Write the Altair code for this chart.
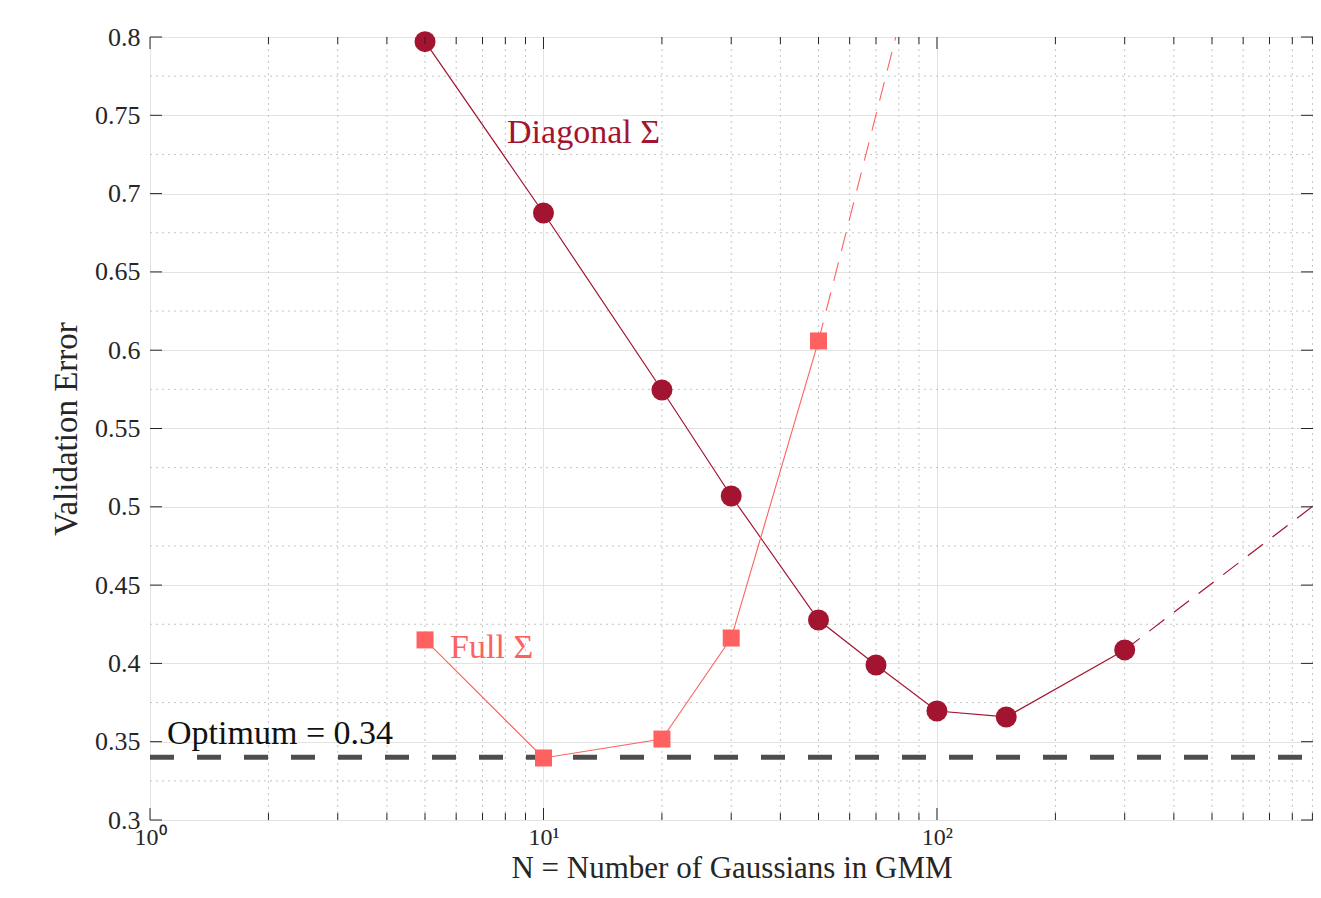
import altair as alt
import pandas as pd

# ---- data ----
diag_n = [5, 10, 20, 30, 50, 70, 100, 150, 300]
diag_err = [0.797, 0.6876, 0.5746, 0.5069, 0.4277, 0.399, 0.3696, 0.3658, 0.4086]
diag_ext_n = [300, 1000]
diag_ext_err = [0.4086, 0.509]

full_n = [5, 10, 20, 30, 50]
full_err = [0.415, 0.3396, 0.3517, 0.4162, 0.6059]
full_ext_n = [50, 100]
full_ext_err = [0.6059, 0.9035]

optimum = [0.34]

y_major = [0.3, 0.35, 0.4, 0.45, 0.5, 0.55, 0.6, 0.65, 0.7, 0.75, 0.8]
y_minor = [0.325, 0.375, 0.425, 0.475, 0.525, 0.575, 0.625, 0.675, 0.725, 0.775]
x_major = [1, 10, 100]
x_minor = [2, 3, 4, 5, 6, 7, 8, 9, 20, 30, 40, 50, 60, 70, 80, 90,
           200, 300, 400, 500, 600, 700, 800, 900]

label_text = ["Diagonal Σ", "Full Σ", "Optimum = 0.34"]
label_n = [8.08, 5.79, 1.105]
label_err = [0.732, 0.4034, 0.3485]

DIAG = "#A2142F"
FULL = "#FF6161"
INK = "#262626"
FONT = "Liberation Serif"

W, H = 1163, 783
XMAX = 903

xscale = alt.Scale(type="log", domain=[1, XMAX], nice=False)
yscale = alt.Scale(domain=[0.3, 0.8], nice=False, zero=False)

xaxis = alt.Axis(
    values=x_major,
    labelExpr="datum.value == 1 ? '10⁰' : datum.value == 10 ? '10¹' : '10²'",
    ticks=False, domain=False, grid=True, gridColor="#e3e3e3", gridWidth=1,
    labelFont=FONT, labelFontSize=24, labelColor=INK, labelPadding=5,
    labelFlush=False, labelOverlap=False,
    title="N = Number of Gaussians in GMM", titleFont=FONT, titleFontSize=31,
    titleFontWeight="normal", titleColor=INK, titleBaseline="alphabetic", titleY=57,
)
yaxis = alt.Axis(
    values=y_major, format="~g",
    ticks=False, domain=False, grid=True, gridColor="#e3e3e3", gridWidth=1,
    labelFont=FONT, labelFontSize=26, labelColor=INK, labelPadding=10,
    title="Validation Error", titleFont=FONT, titleFontSize=33,
    titleFontWeight="normal", titleColor=INK, titleBaseline="alphabetic", titleX=-74,
)


def X():
    return alt.X("n:Q", scale=xscale, axis=xaxis, title="N = Number of Gaussians in GMM")


def Y():
    return alt.Y("err:Q", scale=yscale, axis=yaxis, title="Validation Error")


diag = pd.DataFrame({"n": diag_n, "err": diag_err})
diag_ext = pd.DataFrame({"n": diag_ext_n, "err": diag_ext_err})
full = pd.DataFrame({"n": full_n, "err": full_err})
full_ext = pd.DataFrame({"n": full_ext_n, "err": full_ext_err})
opt = pd.DataFrame({"err": optimum})
ymaj = pd.DataFrame({"err": y_major})
ymin = pd.DataFrame({"err": y_minor})
xmaj = pd.DataFrame({"n": x_major})
xmin = pd.DataFrame({"n": x_minor})
labels = pd.DataFrame({"n": label_n, "err": label_err, "label": label_text})

# minor grids (dotted)
grid_x_minor = alt.Chart(xmin).mark_rule(color="#c4c4c4", strokeWidth=1, strokeDash=[2, 4]).encode(
    x=X(), y=alt.value(0), y2=alt.value(H))
grid_y_minor = alt.Chart(ymin).mark_rule(color="#c4c4c4", strokeWidth=1, strokeDash=[2, 4]).encode(
    y=Y(), x=alt.value(0), x2=alt.value(W))

# inward ticks
tick_left = alt.Chart(ymaj).mark_rule(color=INK, strokeWidth=1).encode(
    y=Y(), x=alt.value(0), x2=alt.value(12))
tick_right = alt.Chart(ymaj).mark_rule(color=INK, strokeWidth=1).encode(
    y=Y(), x=alt.value(W), x2=alt.value(W - 12))
tick_bottom = alt.Chart(xmaj).mark_rule(color=INK, strokeWidth=1).encode(
    x=X(), y=alt.value(H), y2=alt.value(H - 12))
tick_top = alt.Chart(xmaj).mark_rule(color=INK, strokeWidth=1).encode(
    x=X(), y=alt.value(0), y2=alt.value(12))
tick_bottom_minor = alt.Chart(xmin).mark_rule(color=INK, strokeWidth=1).encode(
    x=X(), y=alt.value(H), y2=alt.value(H - 7))
tick_top_minor = alt.Chart(xmin).mark_rule(color=INK, strokeWidth=1).encode(
    x=X(), y=alt.value(0), y2=alt.value(7))

# optimum line
opt_line = alt.Chart(opt).mark_rule(color="#4d4d4d", strokeWidth=5, strokeDash=[24, 23]).encode(
    y=Y(), x=alt.value(0), x2=alt.value(W))

# series
diag_line = alt.Chart(diag).mark_line(color=DIAG, strokeWidth=1.2, clip=True).encode(x=X(), y=Y())
diag_ext_line = alt.Chart(diag_ext).mark_line(color=DIAG, strokeWidth=1.2, strokeDash=[19, 12], clip=True).encode(x=X(), y=Y())
full_line = alt.Chart(full).mark_line(color=FULL, strokeWidth=1.1, clip=True).encode(x=X(), y=Y())
full_ext_line = alt.Chart(full_ext).mark_line(color=FULL, strokeWidth=1.1, strokeDash=[19, 12], clip=True).encode(x=X(), y=Y())

diag_pts = alt.Chart(diag).mark_point(shape="circle", filled=True, size=441, color=DIAG, opacity=1).encode(x=X(), y=Y())
full_pts = alt.Chart(full).mark_point(shape="square", filled=True, size=289, color=FULL, opacity=1).encode(x=X(), y=Y())

text = alt.Chart(labels).mark_text(align="left", baseline="alphabetic", font=FONT, fontSize=34).encode(
    x=X(), y=Y(), text="label:N",
    color=alt.Color("label:N", scale=alt.Scale(domain=label_text, range=[DIAG, FULL, "#111111"]), legend=None),
)

chart = alt.layer(
    grid_x_minor, grid_y_minor,
    opt_line,
    diag_line, diag_ext_line, full_line, full_ext_line,
    full_pts, diag_pts,
    tick_left, tick_right, tick_bottom, tick_top, tick_bottom_minor, tick_top_minor,
    text,
).properties(
    width=W, height=H,
    padding={"left": 142, "top": 29, "right": 0, "bottom": 64},
    autosize=alt.AutoSizeParams(type="none"),
).configure_view(
    stroke=INK, strokeWidth=1,
).configure(background="white")

chart.save("out.html", embed_options={"renderer": "svg", "actions": False})
